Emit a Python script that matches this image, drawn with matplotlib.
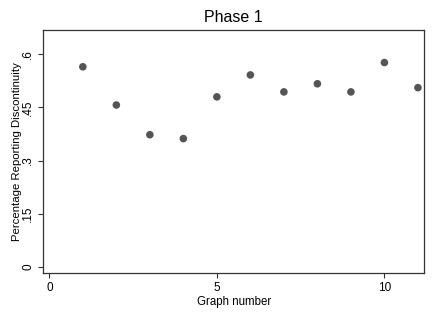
import matplotlib
matplotlib.use("Agg")
import matplotlib.pyplot as plt

graph_number = [1, 2, 3, 4, 5, 6, 7, 8, 9, 10, 11]
pct_discontinuity = [0.565, 0.457, 0.373, 0.362, 0.480, 0.542, 0.494, 0.517, 0.494, 0.577, 0.506]
x_ticks = [0, 5, 10]
y_ticks = [0, 0.15, 0.3, 0.45, 0.6]
y_tick_labels = ["0", ".15", ".3", ".45", ".6"]

plt.rcParams['font.family'] = ['Liberation Sans', 'DejaVu Sans']

fig = plt.figure(figsize=(4.36, 3.17), dpi=100)
ax = fig.add_axes([43.3/436, 1 - 273.3/317, (424.3-43.3)/436, (273.3-30)/317])
ax.scatter(graph_number, pct_discontinuity, s=30, color='#555555', edgecolors='none', zorder=3)
ax.set_xlim(-0.18, 11.19)
ax.set_ylim(-0.0187, 0.669)
ax.set_xticks(x_ticks)
ax.set_yticks(y_ticks)
ax.set_yticklabels(y_tick_labels, rotation=90, va='center')
ax.tick_params(axis='both', direction='out', length=3.5, width=0.8, color='#333333', labelsize=8.5, pad=3)
for s in ax.spines.values():
    s.set_linewidth(0.9)
    s.set_color('#333333')
ax.set_xlabel("Graph number", fontsize=8.3, labelpad=1)
ax.set_ylabel("Percentage Reporting Discontinuity", fontsize=8.2, labelpad=0.5)
ax.set_title("Phase 1", fontsize=11.5, pad=6)
fig.savefig("out.png", dpi=100)
